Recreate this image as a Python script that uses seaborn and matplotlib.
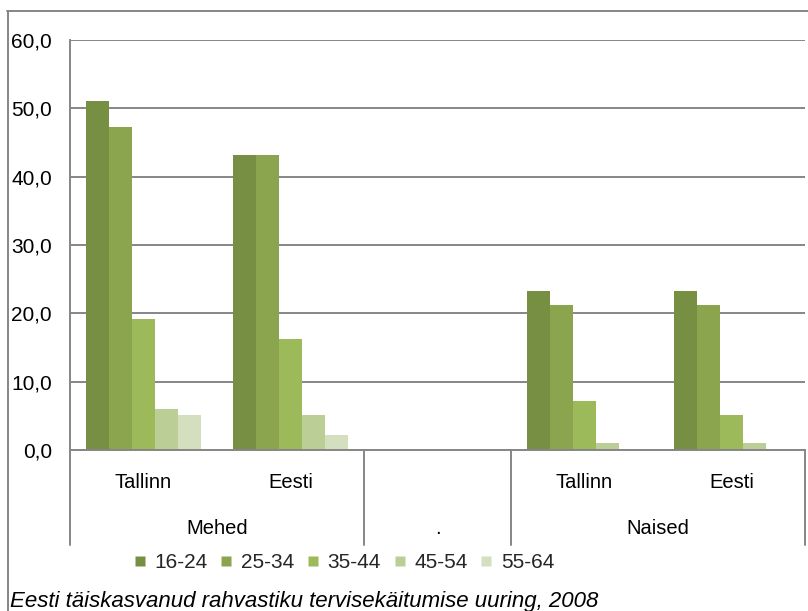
import numpy as np
import pandas as pd
import matplotlib
matplotlib.use("Agg")
import matplotlib.pyplot as plt
from matplotlib.lines import Line2D
from matplotlib.ticker import FuncFormatter
import seaborn as sns

# ---- data ----
categories = ["Mehed-Tallinn", "Mehed-Eesti", ".", "Naised-Tallinn", "Naised-Eesti"]
sub_labels = ["Tallinn", "Eesti", "", "Tallinn", "Eesti"]
group_labels = ["Mehed", ".", "Naised"]
group_centers = [0.5, 2.0, 3.5]
group_bounds = [-0.5, 1.5, 2.5, 4.5]
series = ["16-24", "25-34", "35-44", "45-54", "55-64"]
s16_24 = [51.1, 43.2, None, 23.3, 23.3]
s25_34 = [47.3, 43.2, None, 21.2, 21.2]
s35_44 = [19.2, 16.2, None, 7.2, 5.1]
s45_54 = [6.0, 5.1, None, 1.0, 1.0]
s55_64 = [5.1, 2.2, None, 0.0, 0.0]
colors = ["#778F43", "#8AA54E", "#9CBA5A", "#BBCE96", "#D3DFBE"]
caption = "Eesti täiskasvanud rahvastiku tervisekäitumise uuring, 2008"

rows = []
for name, vals in zip(series, [s16_24, s25_34, s35_44, s45_54, s55_64]):
    for cat, v in zip(categories, vals):
        if v is not None:
            rows.append({"cat": cat, "series": name, "value": v})
df = pd.DataFrame(rows)

sns.set_theme(style="white")
plt.rcParams["font.family"] = ["Liberation Sans", "DejaVu Sans"]
GRAY = "#868686"

W, H = 808, 611
fig = plt.figure(figsize=(W / 100, H / 100), dpi=100)
ax = fig.add_axes([70 / W, 1 - 450 / H, 735 / W, 410 / H])

sns.barplot(data=df, x="cat", y="value", hue="series", order=categories,
            hue_order=series, palette=colors, saturation=1, width=0.78, gap=0,
            linewidth=0, edgecolor="none", ax=ax, legend=False, errorbar=None)

ax.set_xlim(-0.5, 4.5)
ax.set_ylim(0, 60)
ax.set_yticks(np.arange(0, 61, 10))
ax.yaxis.set_major_formatter(FuncFormatter(lambda v, p: f"{v:.1f}".replace(".", ",")))
ax.tick_params(axis="y", length=0, pad=13, labelsize=15, colors="black")
ax.set_xticks([])
ax.set_xlabel("")
ax.set_ylabel("")
ax.yaxis.grid(True, color=GRAY, linewidth=1.4)
ax.set_axisbelow(True)
for s in ["top", "right"]:
    ax.spines[s].set_visible(False)
for s in ["left", "bottom"]:
    ax.spines[s].set_color(GRAY)
    ax.spines[s].set_linewidth(1.4)

trans = ax.get_xaxis_transform()
for i, lab in enumerate(sub_labels):
    if lab:
        ax.text(i, (450 - 482) / 410, lab, transform=trans, ha="center", va="center",
                fontsize=14.5, color="black")
for x, lab in zip(group_centers, group_labels):
    ax.text(x, (450 - 529) / 410, lab, transform=trans, ha="center", va="center",
            fontsize=14.5, color="black")
for x in group_bounds:
    ax.add_line(Line2D([x, x], [0, (450 - 545) / 410], transform=trans, color=GRAY,
                       linewidth=1.4, clip_on=False))

handles = [Line2D([], [], marker="s", linestyle="none", markersize=6.5,
                  markerfacecolor=c, markeredgecolor="none") for c in colors]
fig.legend(handles, series, loc="center", bbox_to_anchor=(344 / W, 1 - 563 / H),
           ncol=5, frameon=False, fontsize=15, handlelength=0.6, handletextpad=0.4,
           columnspacing=0.6, borderaxespad=0, borderpad=0)

fig.text(10 / W, 1 - 601 / H, caption, ha="left", va="center", fontsize=16,
         style="italic", color="black")

# outer chart frame
fig.add_artist(Line2D([7.5 / W, 7.5 / W], [0, 1 - 10.5 / H], color=GRAY, linewidth=1.4))
fig.add_artist(Line2D([7 / W, 1], [1 - 10.5 / H, 1 - 10.5 / H], color=GRAY, linewidth=1.4))

fig.savefig("out.png", dpi=100)
